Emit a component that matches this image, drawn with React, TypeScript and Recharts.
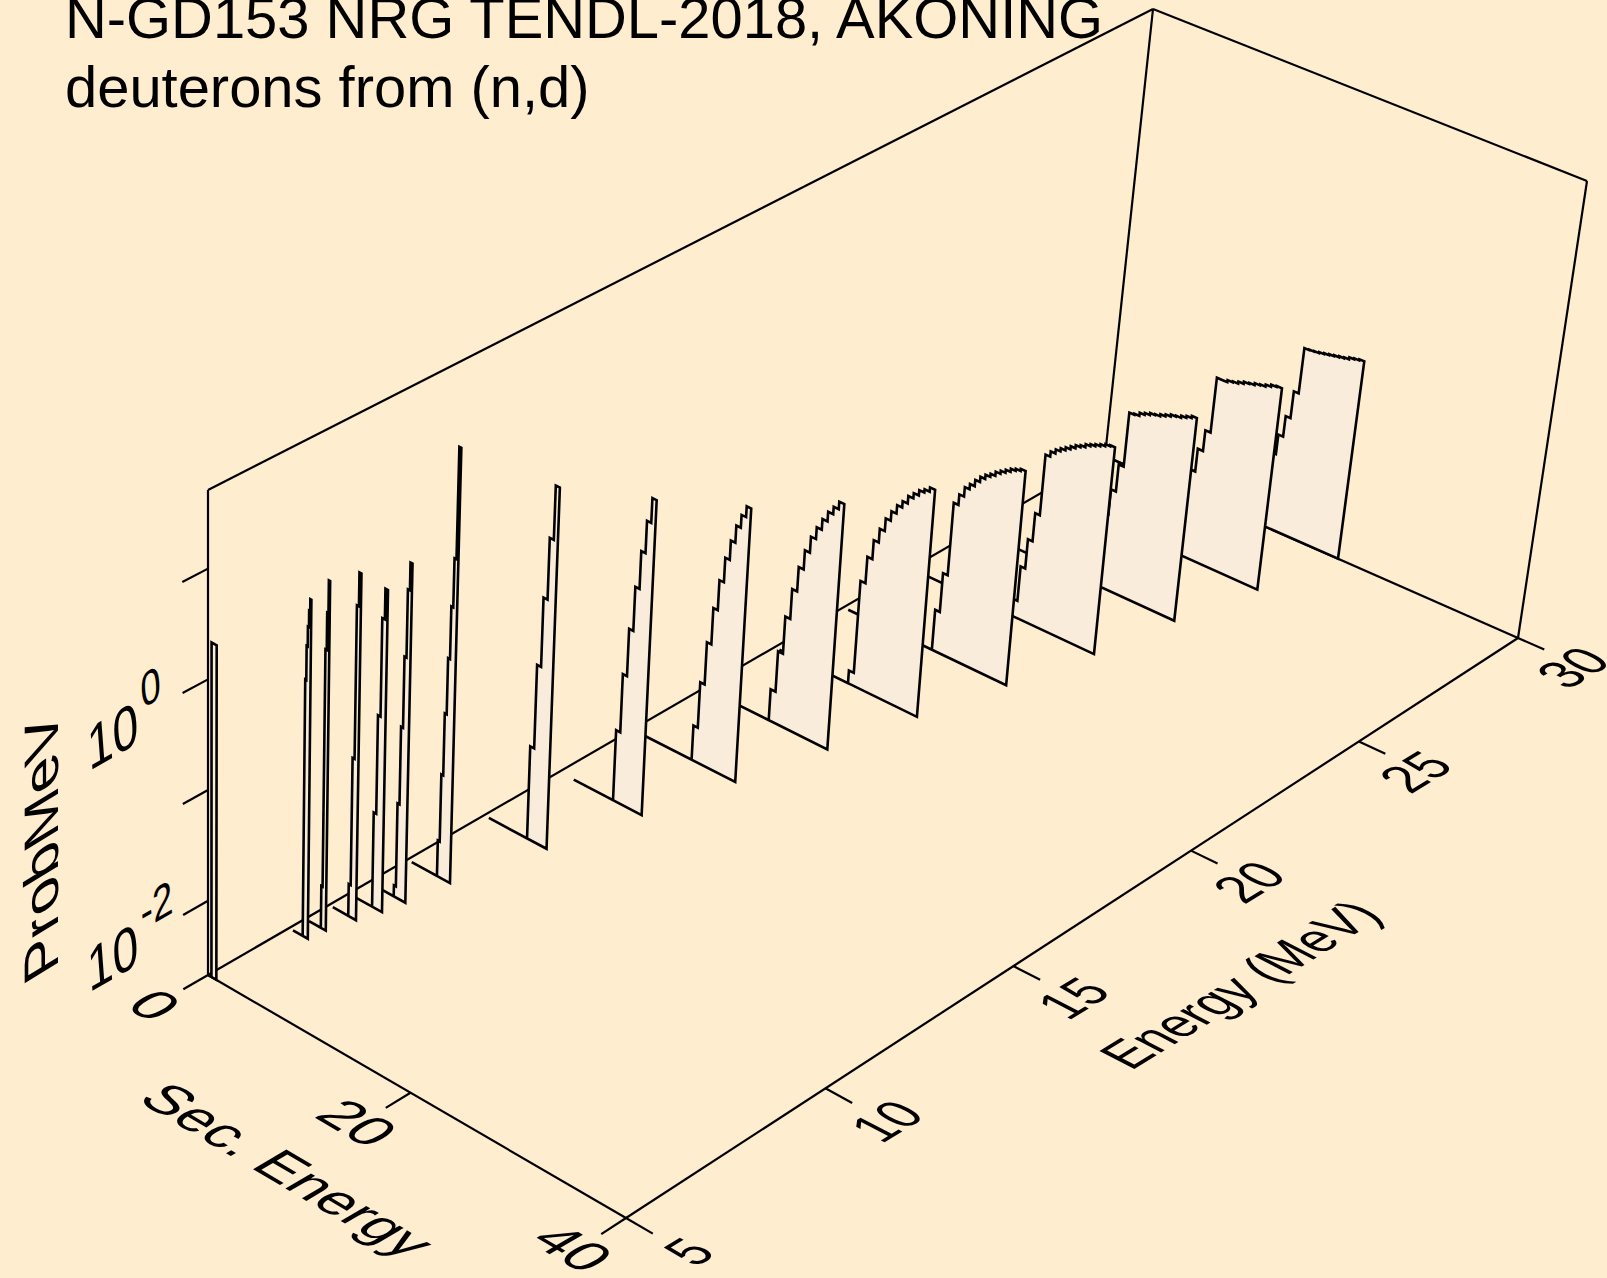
import React from "react";
import { ScatterChart, Scatter, XAxis, YAxis } from "recharts";

const WIDTH = 1607;
const HEIGHT = 1278;
const BG = "#FFEDD0";
const CURTAIN = "#F9ECDA";
const FONT = "'Liberation Sans', Arial, sans-serif";

// axis ranges of the box
const E_MIN = 5;
const E_MAX = 30;
const S_MAX = 40;
const Z_MIN = -2.67; // log10(prob/MeV) at the floor
const Z_MAX = 1.71;

const energyTicks = [5, 10, 15, 20, 25, 30];
const secTicks = [0, 20, 40];
const probTicks = [-2, -1, 0, 1];
const probLabels = [-2, 0];

// incident energies, back to front
const incidentEnergies = [30, 28, 26, 24, 22, 20, 18, 16, 14, 12, 10, 9, 8.5, 8, 7.4, 7, 5];
const floorStart = [1, 1, 0.5, 0.5, 0.5, 0.5, 0.5, 0.5, 1.5, 0.5, 0.45, 0.4, 0.4, 0.4, 0.4, 0.4, 0];
const secStart = [14.8, 12.4, 11, 10.1, 8.9, 7.4, 6.5, 5.97, 5.45, 4.35, 3.0, 2.57, 2.37, 1.96, 1.6, 1.38, 0.35];
const secEnd = [23.1, 21.4, 19.6, 18.2, 16.2, 14.2, 12.3, 10.3, 8.3, 6.3, 4.31, 3.74, 3.37, 2.74, 2.1, 1.9, 0.85];

// log10(prob/MeV) in each secondary energy bin
const logProb30 = [-2.54, -2.27, -1.96, -1.77, -1.57, -1.31, -0.87, -0.865, -0.86, -0.85, -0.84, -0.83, -0.82, -0.81, -0.8, -0.78, -0.77, -0.76];
const logProb28 = [-2.57, -2.34, -2.09, -1.84, -1.62, -1.42, -0.89, -0.89, -0.87, -0.86, -0.84, -0.82, -0.81, -0.79, -0.78, -0.76, -0.74, -0.73];
const logProb26 = [-2.54, -2.26, -1.97, -1.73, -1.47, -0.95, -0.94, -0.91, -0.89, -0.87, -0.86, -0.84, -0.82, -0.8, -0.79, -0.77, -0.75, -0.73];
const logProb24 = [-2.51, -2.18, -1.9, -1.63, -1.05, -1.0, -0.96, -0.93, -0.9, -0.87, -0.84, -0.82, -0.79, -0.77, -0.75, -0.73, -0.71, -0.7];
const logProb22 = [-2.29, -1.92, -1.23, -1.13, -1.04, -0.99, -0.93, -0.88, -0.84, -0.81, -0.77, -0.74, -0.71, -0.68, -0.66, -0.64];
const logProb20 = [-2.55, -1.68, -1.43, -1.25, -1.12, -1.0, -0.91, -0.83, -0.77, -0.7, -0.65, -0.6, -0.57, -0.53];
const logProb18 = [-2.38, -2.0, -1.65, -1.37, -1.14, -0.96, -0.81, -0.7, -0.6, -0.51, -0.44, -0.37];
const logProb16 = [-2.35, -1.925, -1.53, -1.19, -0.91, -0.68, -0.5, -0.34, -0.22, -0.12];
const logProb14 = [-2.02, -1.48, -1.04, -0.63, -0.28, 0.02, 0.25];
const logProb12 = [-1.82, -1.05, -0.41, 0.16, 0.66];
const logProb10 = [-2.345, -1.73, -1.16, -0.645, -0.16, 0.29, 1.32];
const logProb9 = [-2.57, -1.81, -1.1, -0.45, 0.175, 0.43];
const logProb85 = [-1.81, -0.91, -0.01, 0.27];
const logProb8 = [-2.38, -1.22, 0.18, 0.49];
const logProb75 = [-2.29, -0.13, 0.21, 0.51];
const logProb7 = [-0.34, -0.03, 0.15, 0.3, 0.41];
const logProb5 = [0.35];

const allLogProbs = [
  logProb30, logProb28, logProb26, logProb24, logProb22, logProb20, logProb18, logProb16,
  logProb14, logProb12, logProb10, logProb9, logProb85, logProb8, logProb75, logProb7, logProb5,
];

type Pt = [number, number];

// corners of the box on the page: floor and roof, E/S = (min,0) (max,0) (max,max) (min,max)
const floorCorners: Pt[] = [[208, 975], [1105, 456], [1518, 638], [626, 1218]];
const roofCorners: Pt[] = [[208, 490], [1153, 9], [1587, 181], [649, 716]];

// perspective map of the unit square onto four corners
function homography(c: Pt[]) {
  const [p0, p1, p2, p3] = c;
  const sx = p0[0] - p1[0] + p2[0] - p3[0];
  const sy = p0[1] - p1[1] + p2[1] - p3[1];
  const dx1 = p1[0] - p2[0];
  const dy1 = p1[1] - p2[1];
  const dx2 = p3[0] - p2[0];
  const dy2 = p3[1] - p2[1];
  const det = dx1 * dy2 - dx2 * dy1;
  const g = (sx * dy2 - dx2 * sy) / det;
  const h = (dx1 * sy - sx * dy1) / det;
  return (u: number, v: number): Pt => {
    const w = 1 + g * u + h * v;
    return [
      ((p1[0] - p0[0] + g * p1[0]) * u + (p3[0] - p0[0] + h * p3[0]) * v + p0[0]) / w,
      ((p1[1] - p0[1] + g * p1[1]) * u + (p3[1] - p0[1] + h * p3[1]) * v + p0[1]) / w,
    ];
  };
}

const floorMap = homography(floorCorners);
const roofMap = homography(roofCorners);

function project(energy: number, sec: number, logProb: number) {
  const u = (energy - E_MIN) / (E_MAX - E_MIN);
  const v = sec / S_MAX;
  const t = (logProb - Z_MIN) / (Z_MAX - Z_MIN);
  const f = floorMap(u, v);
  const r = roofMap(u, v);
  return { x: f[0] + (r[0] - f[0]) * t, y: f[1] + (r[1] - f[1]) * t };
}

// one curtain: floor run, histogram steps, drop to the floor, back along the floor
function curtainPoints(i: number) {
  const e = incidentEnergies[i];
  const bins = allLogProbs[i];
  const s0 = secStart[i];
  const s1 = secEnd[i];
  const w = (s1 - s0) / bins.length;
  const pts = [project(e, floorStart[i], Z_MIN), project(e, s0, Z_MIN)];
  bins.forEach((z, k) => {
    pts.push(project(e, s0 + k * w, z));
    pts.push(project(e, s0 + (k + 1) * w, z));
  });
  pts.push(project(e, s1, Z_MIN));
  pts.push(project(e, floorStart[i], Z_MIN));
  return pts;
}

const noDot = () => null;

function segment(a: number[], b: number[]) {
  return [project(a[0], a[1], a[2]), project(b[0], b[1], b[2])];
}

const backFrame = [
  [[E_MIN, 0, Z_MIN], [E_MIN, 0, Z_MAX]],
  [[E_MIN, 0, Z_MAX], [E_MAX, 0, Z_MAX]],
  [[E_MAX, 0, Z_MAX], [E_MAX, S_MAX, Z_MAX]],
  [[E_MAX, S_MAX, Z_MAX], [E_MAX, S_MAX, Z_MIN]],
  [[E_MAX, 0, Z_MAX], [E_MAX, 0, Z_MIN]],
  [[E_MIN, 0, Z_MIN], [E_MAX, 0, Z_MIN]],
  [[E_MAX, 0, Z_MIN], [E_MAX, S_MAX, Z_MIN]],
];

const frontFrame = [
  [[E_MIN, 0, Z_MIN], [E_MIN, S_MAX, Z_MIN]],
  [[E_MIN, S_MAX, Z_MIN], [E_MAX, S_MAX, Z_MIN]],
];

const TICK_E = 4.4;
const TICK_S = 42.4;

const tickSegments = [
  ...energyTicks.map((e) => [[e, S_MAX, Z_MIN], [e, TICK_S, Z_MIN]]),
  ...secTicks.map((s) => [[E_MIN, s, Z_MIN], [TICK_E, s, Z_MIN]]),
  ...probTicks.map((z) => [[E_MIN, 0, z], [TICK_E, 0, z]]),
];

const energyLabelData = energyTicks.map((e) => ({ ...project(e, S_MAX, Z_MIN), label: String(e), energy: e }));
const secLabelData = secTicks.map((s) => ({ ...project(E_MIN, s, Z_MIN), label: String(s) }));
const probLabelData = probLabels.map((z) => ({ ...project(E_MIN, 0, z), label: String(z) }));

// the label gap shrinks with depth
const EnergyTick = ({ cx, cy, payload }: any) => {
  const k = 1 - 0.004 * (payload.energy - 10);
  return (
    <text
      transform={`translate(${cx + 79 * k} ${cy + 42 * k}) matrix(0.72 -0.44 0.89 0.46 0 0)`}
      textAnchor="middle"
      fontFamily={FONT}
      fontSize={57}
    >
      {payload.label}
    </text>
  );
};

const SecTick = ({ cx, cy, payload }: any) => (
  <text
    transform={`translate(${cx - 70} ${cy + 40}) matrix(0.88 0.52 -0.85 0.5 0 0)`}
    textAnchor="middle"
    fontFamily={FONT}
    fontSize={57}
  >
    {payload.label}
  </text>
);

const ProbTick = ({ cx, cy, payload }: any) => (
  <g transform={`translate(${cx - 119} ${cy + 92}) matrix(0.8 -0.46 0.08 1.06 0 0)`} fontFamily={FONT}>
    <text fontSize={57}>10</text>
    <text x={69} y={-29} fontSize={45}>
      {payload.label}
    </text>
  </g>
);

export default function App() {
  return (
    <div style={{ position: "absolute", left: 0, top: 0, width: WIDTH, height: HEIGHT, background: BG, overflow: "hidden" }}>
      <ScatterChart width={WIDTH} height={HEIGHT} margin={{ top: 0, right: 0, bottom: 0, left: 0 }}>
        <XAxis type="number" dataKey="x" domain={[0, WIDTH]} hide />
        <YAxis type="number" dataKey="y" domain={[0, HEIGHT]} reversed hide />

        {backFrame.map((s, i) => (
          <Scatter key={`back${i}`} data={segment(s[0], s[1])} shape={noDot} isAnimationActive={false}
            line={{ stroke: "#000", strokeWidth: 2.2, fill: "none" }} lineType="joint" />
        ))}
        {incidentEnergies.map((e, i) => (
          <Scatter key={`curtain${e}`} data={curtainPoints(i)} shape={noDot} isAnimationActive={false}
            line={{ stroke: "#000", strokeWidth: 2.6, fill: CURTAIN }} lineType="joint" />
        ))}
        {frontFrame.map((s, i) => (
          <Scatter key={`front${i}`} data={segment(s[0], s[1])} shape={noDot} isAnimationActive={false}
            line={{ stroke: "#000", strokeWidth: 2.2, fill: "none" }} lineType="joint" />
        ))}
        {tickSegments.map((s, i) => (
          <Scatter key={`tick${i}`} data={segment(s[0], s[1])} shape={noDot} isAnimationActive={false}
            line={{ stroke: "#000", strokeWidth: 2.2, fill: "none" }} lineType="joint" />
        ))}

        <Scatter data={energyLabelData} shape={EnergyTick} isAnimationActive={false} />
        <Scatter data={secLabelData} shape={SecTick} isAnimationActive={false} />
        <Scatter data={probLabelData} shape={ProbTick} isAnimationActive={false} />

        <text x={65} y={38} fontFamily={FONT} fontSize={57.9}>N-GD153 NRG TENDL-2018, AKONING</text>
        <text x={65} y={107} fontFamily={FONT} fontSize={57.9}>deuterons from (n,d)</text>
        <text transform="translate(58 968) matrix(0 -1.1 0.85 -0.52 0 0)" fontFamily={FONT} fontSize={57}>ProbMeV</text>
        <text transform="translate(1131 1071) matrix(0.72 -0.44 0.89 0.46 0 0)" fontFamily={FONT} fontSize={57}>Energy (MeV)</text>
        <text transform="translate(136 1100) matrix(0.87 0.515 -0.85 0.5 0 0)" fontFamily={FONT} fontSize={57}>Sec. Energy</text>
      </ScatterChart>
    </div>
  );
}
